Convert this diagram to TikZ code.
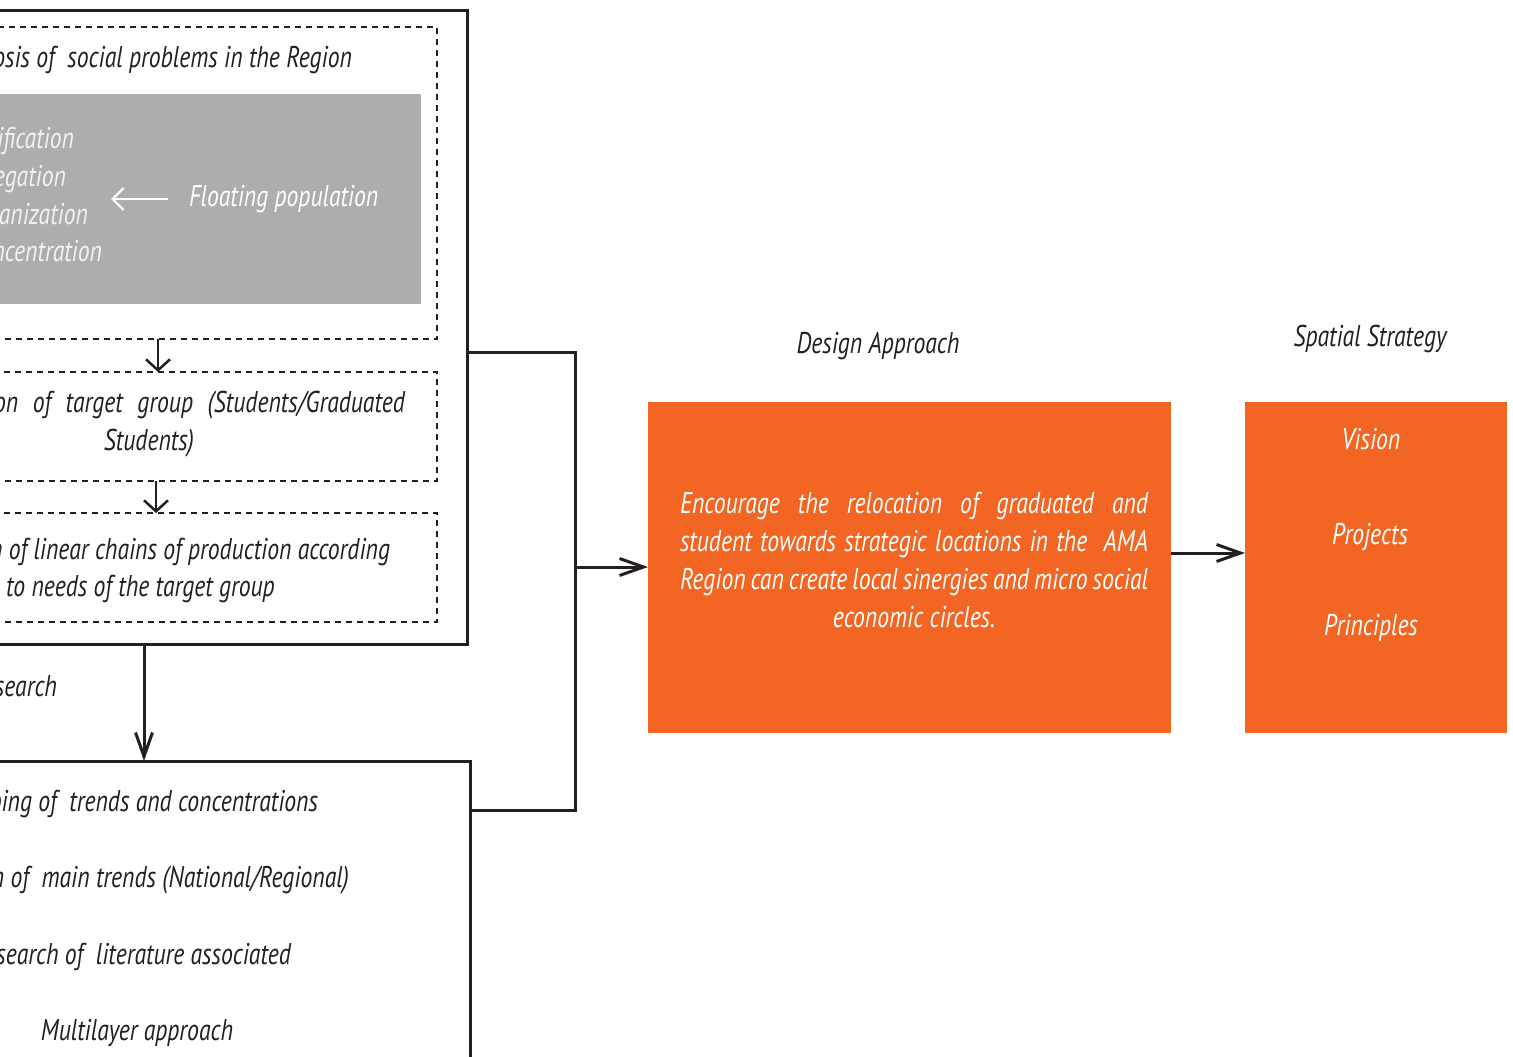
\documentclass[tikz,border=0pt]{standalone}
\usepackage{fontspec}
\setmainfont{PT Sans}[FakeStretch=0.79]
\usetikzlibrary{arrows.meta}
\definecolor{ink}{HTML}{231F20}
\definecolor{orng}{HTML}{F26522}
\definecolor{grayfill}{HTML}{ADADAD}
\definecolor{paletxt}{HTML}{F2F2F2}
\begin{document}
\begin{tikzpicture}[x=1pt,y=-1pt,
  every node/.style={inner sep=0pt, outer sep=0pt},
  lbl/.style={font=\fontsize{30}{38}\selectfont\itshape, yshift=-6.5pt},
  solidbox/.style={draw=ink, line width=3pt, anchor=north west},
  dashbox/.style={draw=ink, line width=1.7pt, dash pattern=on 6pt off 5pt, anchor=north west},
  orangebox/.style={fill=orng, anchor=north west},
  wire/.style={draw=ink, line width=3pt},
  smallarr/.style={draw=ink, line width=2.5pt, -{Straight Barb[length=11pt, width=24pt, line width=2.5pt]}},
  bigarr/.style={draw=ink, line width=3pt, -{Straight Barb[length=24pt, width=17pt, line width=3pt]}},
  txt/.style={lbl, text=ink},
  wtxt/.style={lbl, text=white},
  gtxt/.style={lbl, text=paletxt}]
\useasboundingbox (0,0) rectangle (1513,1057);
\clip (0,0) rectangle (1513,1057);

% left column boxes
\node[solidbox, minimum width=517pt, minimum height=633pt] (box1) at (-50,11) {};
\node[dashbox, minimum width=487pt, minimum height=312pt] (d1) at (-50,27) {};
\node[fill=grayfill, anchor=north west, minimum width=471pt, minimum height=210pt] (gray) at (-50,94) {};
\node[dashbox, minimum width=487pt, minimum height=109pt] (d2) at (-50,372) {};
\node[dashbox, minimum width=487pt, minimum height=109pt] (d3) at (-50,513) {};
\node[solidbox, minimum width=520pt, minimum height=340pt] (box2) at (-50,761) {};

% texts in box 1
\node[txt, anchor=mid east] (t1) at (352,59) {Diagnosis of\ \ social problems in the Region};
\node[gtxt, anchor=mid east] (g1) at (74,139) {Gentrification};
\node[gtxt, anchor=mid east] (g2) at (66,177) {Segregation};
\node[gtxt, anchor=mid east] (g3) at (88,215) {Urbanization};
\node[gtxt, anchor=mid east] (g4) at (102,252) {Concentration};
\node[wtxt, anchor=mid west] (fp) at (189,197) {Floating population};
\coordinate (wa1) at (168,199);
\coordinate (wa2) at (111,199);
\draw[white, line width=2.2pt, -{Straight Barb[length=11pt, width=22pt, line width=2.2pt]}] (wa1) -- (wa2);

\node[txt, anchor=mid east] (t2a) at (405,403) {\makebox[513pt][s]{Identification of target group (Students/Graduated}};
\node[txt, anchor=mid] (t2b) at (149,441) {Students)};
\node[txt, anchor=mid east] (t3a) at (390,550) {Identification of linear chains of production according};
\node[txt, anchor=mid west] (t3b) at (6,587) {to needs of the target group};

\node[txt, anchor=mid east] (rs) at (57,687) {Research};

% texts in box 2
\node[txt, anchor=mid east] (b1) at (318,802) {Mapping of\ \ trends and concentrations};
\node[txt, anchor=mid east] (b2) at (349,878) {Research of\ \ main trends (National/Regional)};
\node[txt, anchor=mid east] (b3) at (291,955) {Research of\ \ literature associated};
\node[txt, anchor=mid] (b4) at (137,1031) {Multilayer approach};

% orange boxes
\node[orangebox, minimum width=523pt, minimum height=331pt] (o1) at (648,402) {};
\node[orangebox, minimum width=262pt, minimum height=331pt] (o2) at (1245,402) {};
\node[txt, anchor=mid] (h1) at (878,344) {Design Approach};
\node[txt, anchor=mid] (h2) at (1370,337) {Spatial Strategy};
\node[wtxt, anchor=mid] (e1) at (914,504) {\makebox[468pt][s]{Encourage the relocation of graduated and}};
\node[wtxt, anchor=mid] (e2) at (914,542) {\makebox[468pt][s]{student towards strategic locations in the\ \ AMA}};
\node[wtxt, anchor=mid] (e3) at (914,580) {\makebox[468pt][s]{Region can create local sinergies and micro social}};
\node[wtxt, anchor=mid] (e4) at (914,618) {economic circles.};
\node[wtxt, anchor=mid] (s1) at (1371,440) {Vision};
\node[wtxt, anchor=mid] (s2) at (1370,535) {Projects};
\node[wtxt, anchor=mid] (s3) at (1371,626) {Principles};

% connectors
\coordinate (c1) at (158,0);
\coordinate (c2) at (156,0);
\coordinate (c3) at (144,0);
\draw[smallarr] (d1.south -| c1) -- (d2.north -| c1);
\draw[smallarr] (d2.south -| c2) -- (d3.north -| c2);
\draw[bigarr] (box1.south -| c3) -- (box2.north -| c3);
\coordinate (j1) at (575,352);
\coordinate (j2) at (575,810);
\coordinate (j3) at (575,567);
\coordinate (j4) at (0,553);
\draw[wire, line cap=rect] (box1.east |- j1) -- (j1) -- (j2) -- (box2.east |- j2);
\draw[bigarr] (j3) -- (o1.west |- j3);
\draw[bigarr] (o1.east |- j4) -- (o2.west |- j4);
\end{tikzpicture}
\end{document}
